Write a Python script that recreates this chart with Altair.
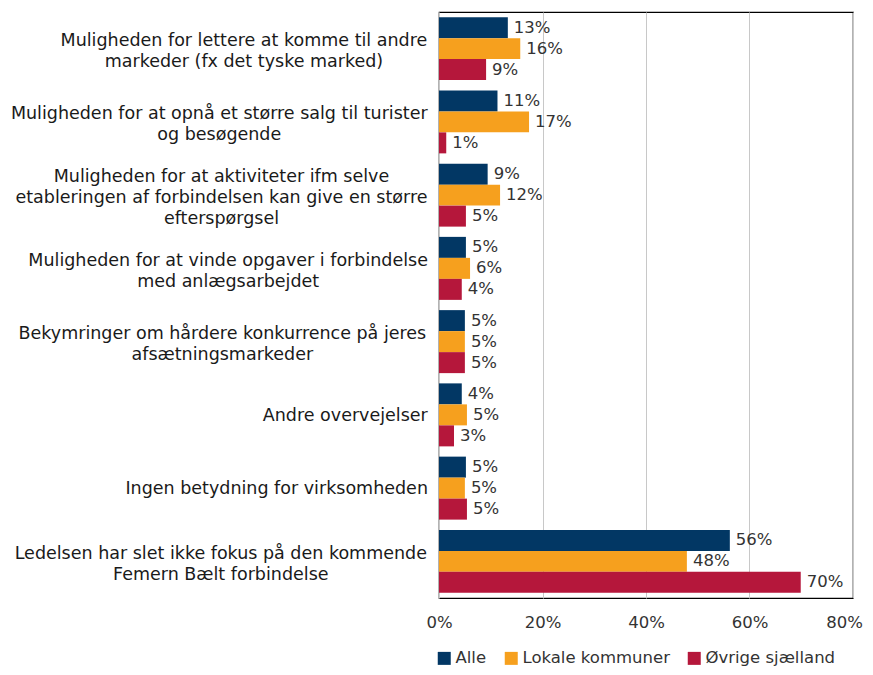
import altair as alt
import pandas as pd

categories = [
    "Muligheden for lettere at komme til andre\nmarkeder (fx det tyske marked)",
    "Muligheden for at opnå et større salg til turister\nog besøgende",
    "Muligheden for at aktiviteter ifm selve\netableringen af forbindelsen kan give en større\nefterspørgsel",
    "Muligheden for at vinde opgaver i forbindelse\nmed anlægsarbejdet",
    "Bekymringer om hårdere konkurrence på jeres\nafsætningsmarkeder",
    "Andre overvejelser",
    "Ingen betydning for virksomheden",
    "Ledelsen har slet ikke fokus på den kommende\nFemern Bælt forbindelse",
]
series_names = ["Alle", "Lokale kommuner", "Øvrige sjælland"]
alle = [0.133, 0.113, 0.094, 0.052, 0.050, 0.044, 0.052, 0.562]
lokale = [0.157, 0.174, 0.118, 0.060, 0.050, 0.054, 0.050, 0.479]
ovrige = [0.091, 0.014, 0.052, 0.044, 0.050, 0.029, 0.054, 0.699]
colors = ["#023764", "#F6A01E", "#B5173B"]
x_ticks = [0, 0.2, 0.4, 0.6, 0.8]

FONT = "DejaVu Sans"
FS = 16.5
CAT_FS = 17.5
LINE_H = 21
PLOT_W = 414
PLOT_H = 586
XMAX = 0.8

rows = []
for s, vals in zip(series_names, [alle, lokale, ovrige]):
    for c, v in zip(categories, vals):
        rows.append({"category": c, "series": s, "value": v})
df = pd.DataFrame(rows)

# approximate DejaVu Sans advance widths (em) to centre multi-line labels
W = {' ': 0.318, 'a': 0.613, 'b': 0.635, 'c': 0.550, 'd': 0.635, 'e': 0.615, 'f': 0.352,
     'g': 0.635, 'h': 0.634, 'i': 0.278, 'j': 0.278, 'k': 0.579, 'l': 0.278, 'm': 0.974,
     'n': 0.634, 'o': 0.612, 'p': 0.635, 'q': 0.635, 'r': 0.411, 's': 0.521, 't': 0.392,
     'u': 0.634, 'v': 0.592, 'w': 0.818, 'x': 0.592, 'y': 0.592, 'z': 0.525, 'å': 0.613,
     'æ': 0.981, 'ø': 0.612, 'A': 0.684, 'B': 0.686, 'F': 0.575, 'I': 0.295, 'L': 0.557,
     'M': 0.863, '(': 0.390, ')': 0.390}


def block_center(label):
    w = max(sum(W.get(ch, 0.6) for ch in line) for line in label.split("\n")) * CAT_FS
    px = -11 - w / 2
    return px * XMAX / PLOT_W


lab_df = pd.DataFrame({
    "category": categories,
    "lx": [block_center(c) for c in categories],
    "nlines": [len(c.split("\n")) for c in categories],
})

yscale = alt.Scale(domain=categories, paddingInner=0.14, paddingOuter=0.07)
xscale = alt.Scale(domain=[0, XMAX])
offscale = alt.Scale(domain=series_names, paddingInner=0, paddingOuter=0)

base = alt.Chart(df)

bars = base.mark_bar().encode(
    y=alt.Y("category:N", sort=categories, scale=yscale, axis=None),
    yOffset=alt.YOffset("series:N", sort=series_names, scale=offscale),
    x=alt.X("value:Q", scale=xscale,
            axis=alt.Axis(format=".0%", values=x_ticks, grid=True, ticks=False, domain=False,
                          labelPadding=16, labelFontSize=FS, labelColor="#333333",
                          labelFlush=False, title=None, gridColor="#c8c8c8", gridWidth=1,
                          labelOffset={"condition": {"test": "datum.value >= 0.79", "value": -9},
                                       "value": 0})),
    color=alt.Color("series:N", sort=series_names,
                    scale=alt.Scale(domain=series_names, range=colors),
                    legend=alt.Legend(orient="none", legendX=-3, legendY=638,
                                      direction="horizontal", title=None,
                                      symbolType="square", symbolSize=169,
                                      symbolStrokeWidth=0, labelFontSize=FS,
                                      labelColor="#333333", columnPadding=16,
                                      labelOffset=3)),
)

values = base.mark_text(align="left", baseline="middle", dx=6, fontSize=FS,
                        color="#333333").encode(
    y=alt.Y("category:N", sort=categories, scale=yscale, axis=None),
    yOffset=alt.YOffset("series:N", sort=series_names, scale=offscale),
    x=alt.X("value:Q", scale=xscale),
    text=alt.Text("value:Q", format=".0%"),
)

label_layers = []
for n in sorted(set(lab_df["nlines"])):
    label_layers.append(
        alt.Chart(lab_df).transform_filter(alt.datum.nlines == n).mark_text(
            align="center", baseline="middle", lineBreak="\n", lineHeight=LINE_H,
            fontSize=CAT_FS, color="#1a1a1a",
            dy=-(n - 1) * LINE_H / 2 + (3 if n > 1 else 1)
        ).encode(
            y=alt.Y("category:N", sort=categories, scale=yscale, axis=None),
            x=alt.X("lx:Q", scale=xscale),
            text="category:N",
        )
    )

chart = alt.layer(bars, values, *label_layers).properties(
    width=PLOT_W, height=PLOT_H,
    padding={"left": 431, "top": 4, "right": 12, "bottom": 69},
    autosize=alt.AutoSizeParams(type="none"),
).configure(font=FONT).configure_view(stroke="#000000", strokeWidth=1.2)

chart.save("out.html", embed_options={"renderer": "svg", "actions": False})
